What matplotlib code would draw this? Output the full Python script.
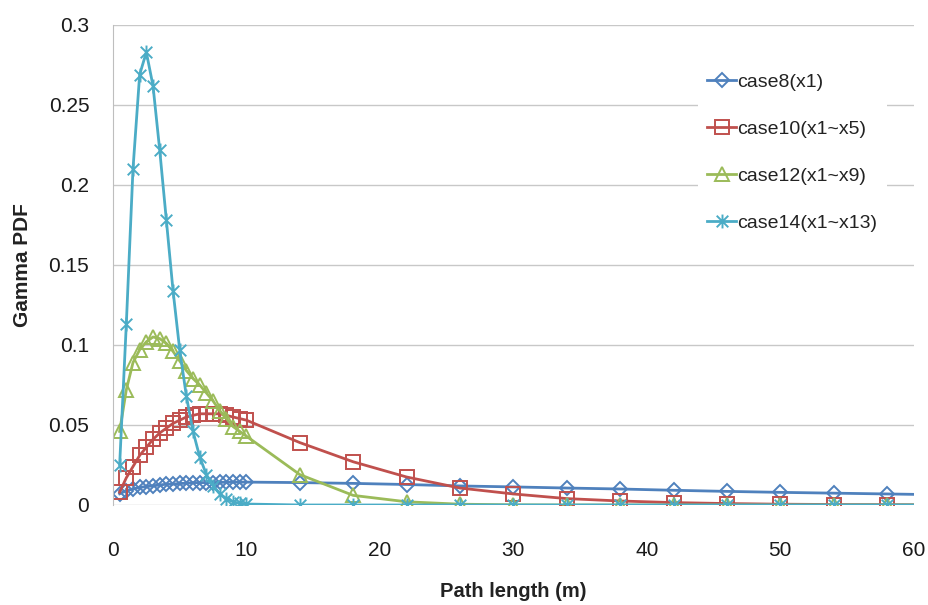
import numpy as np
import matplotlib
matplotlib.use('Agg')
import matplotlib.pyplot as plt
from matplotlib.path import Path

plt.rcParams['font.family'] = ['Liberation Sans', 'DejaVu Sans']

# path length (m): dense part then every 4 m (last point sits past the axis end)
x_dense = [0.5, 1, 1.5, 2, 2.5, 3, 3.5, 4, 4.5, 5, 5.5, 6, 6.5, 7, 7.5, 8, 8.5, 9, 9.5, 10]
x_sparse = [14, 18, 22, 26, 30, 34, 38, 42, 46, 50, 54, 58, 62]
path_len = x_dense + x_sparse

case8 = [0.007, 0.009, 0.010, 0.011, 0.0115, 0.012, 0.0125, 0.013, 0.013, 0.0135,
         0.0135, 0.014, 0.014, 0.014, 0.014, 0.0142, 0.0142, 0.0143, 0.0143, 0.0143,
         0.0140, 0.0135, 0.0128, 0.0119, 0.0113, 0.0106, 0.0100, 0.0092, 0.0085,
         0.0079, 0.0074, 0.0069, 0.0064]
case10 = [0.008, 0.017, 0.024, 0.031, 0.036, 0.041, 0.045, 0.048, 0.051, 0.053,
          0.055, 0.056, 0.057, 0.057, 0.057, 0.057, 0.056, 0.055, 0.054, 0.053,
          0.039, 0.027, 0.0175, 0.0106, 0.0069, 0.004, 0.0025, 0.0015, 0.0009,
          0.0005, 0.0003, 0.0002, 0.0001]
case12 = [0.046, 0.072, 0.089, 0.097, 0.102, 0.105, 0.104, 0.101, 0.096, 0.090,
          0.084, 0.079, 0.075, 0.070, 0.065, 0.059, 0.054, 0.049, 0.046, 0.043,
          0.019, 0.006, 0.002, 0.0005, 0.0001, 0, 0, 0, 0, 0, 0, 0, 0]
case14 = [0.025, 0.113, 0.210, 0.269, 0.283, 0.262, 0.222, 0.178, 0.134, 0.097,
          0.068, 0.046, 0.030, 0.019, 0.012, 0.007, 0.004, 0.002, 0.001, 0.0006,
          0, 0, 0, 0, 0, 0, 0, 0, 0, 0, 0, 0, 0]

labels = ['case8(x1)', 'case10(x1~x5)', 'case12(x1~x9)', 'case14(x1~x13)']
colors = ['#4F81BD', '#C0504D', '#9BBB59', '#4BACC6']

# Excel style star: an X with a vertical bar
star = Path([(-1, -1), (1, 1), (-1, 1), (1, -1), (0, -1.2), (0, 1.2)],
            [Path.MOVETO, Path.LINETO, Path.MOVETO, Path.LINETO, Path.MOVETO, Path.LINETO])
markers = ['D', 's', '^', star]
msizes = [7, 10, 10, 10]

fig = plt.figure(figsize=(9.29, 6.05), dpi=100)
ax = fig.add_axes([0.1216, 0.1653, 0.862, 0.7934])

for ys, lab, c, m, ms in zip([case8, case10, case12, case14], labels, colors, markers, msizes):
    ax.plot(path_len, ys, color=c, lw=2, marker=m, ms=ms, mfc='none', mec=c, mew=1.4, label=lab)

ax.set_xlim(0, 60)
ax.set_ylim(0, 0.3)
ax.set_xticks(range(0, 61, 10))
ax.set_yticks([0, 0.05, 0.1, 0.15, 0.2, 0.25, 0.3])
ax.set_yticklabels(['0', '0.05', '0.1', '0.15', '0.2', '0.25', '0.3'])
ax.grid(axis='y', color='#C8C8C8', lw=1)
ax.set_axisbelow(True)
for s in ['top', 'right', 'bottom']:
    ax.spines[s].set_visible(False)
ax.spines['left'].set_color('#BEBEBE')
ax.tick_params(axis='both', length=0, labelsize=15, colors='#1A1A1A')
ax.tick_params(axis='y', pad=17)
ax.tick_params(axis='x', pad=26)

ax.set_xlabel('Path length (m)', fontsize=14.5, fontweight='bold', color='#222222', labelpad=16)
ax.set_ylabel('Gamma PDF', fontsize=15, fontweight='bold', color='#222222', labelpad=12)

leg = ax.legend(loc='upper left', bbox_to_anchor=(0.73, 0.919), borderaxespad=0, frameon=True,
                fontsize=14, labelspacing=1.5, handlelength=1.5, handletextpad=0.05, borderpad=0.5)
leg.get_frame().set_edgecolor('none')
leg.get_frame().set_facecolor('white')
leg.get_frame().set_alpha(1)
for t in leg.get_texts():
    t.set_color('#222222')

plt.savefig('out.png', dpi=100)
